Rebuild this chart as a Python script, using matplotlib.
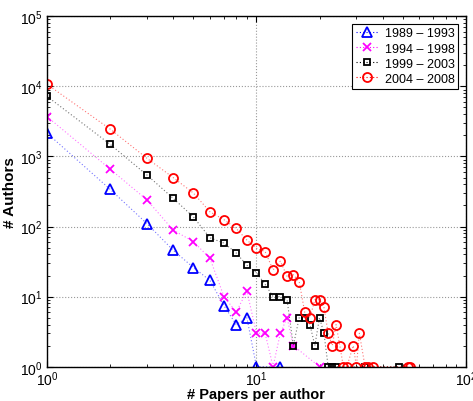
import numpy as np
import matplotlib
matplotlib.use("Agg")
import matplotlib.pyplot as plt

plt.rcParams['font.family'] = ['Liberation Sans', 'DejaVu Sans']
plt.rcParams['mathtext.fontset'] = 'custom'
plt.rcParams['mathtext.rm'] = 'Liberation Sans'

labels = ['1989 – 1993', '1994 – 1998', '1999 – 2003', '2004 – 2008']

x1 = [1, 2, 3, 4, 5, 6, 7, 8, 9, 10, 13]
y1 = [2150, 340, 110, 46, 26, 17, 7.4, 4, 5, 1, 1]

x2 = [1, 2, 3, 4, 5, 6, 7, 8, 9, 10, 11, 12, 13, 14, 15, 20]
y2 = [3700, 660, 240, 89, 61, 35, 10, 6, 12, 3, 3, 1, 3, 5, 2, 1]

x3 = [1, 2, 3, 4, 5, 6, 7, 8, 9, 10, 11, 12, 13, 14, 15, 16, 17, 18, 19, 20,
      21, 22, 23, 24, 33, 48]
y3 = [7200, 1490, 543, 253, 137, 69, 58, 42, 28, 22, 15, 10, 10, 9, 2, 5, 5, 4, 2, 5,
      3, 1, 1, 1, 1, 1]

x4 = [1, 2, 3, 4, 5, 6, 7, 8, 9, 10, 11, 12, 13, 14, 15, 16, 17, 18, 19, 20,
      21, 22, 23, 24, 25, 26, 27, 29, 30, 31, 33, 34, 36, 53, 54]
y4 = [10700, 2460, 940, 500, 300, 162, 125, 94, 64, 49, 44, 24, 32, 19.5, 20.5, 16.3, 6, 5, 9, 9,
      7, 3, 2, 4, 2, 1, 1, 2, 1, 3, 1, 1, 1, 1, 1]

fig = plt.figure(figsize=(4.73, 4.02), dpi=100)
ax = fig.add_axes([0.0994, 0.0853, 0.8856, 0.8718])

dots = (0, (1, 2))
series = [(x1, y1, '^', 'blue', 7), (x2, y2, 'x', 'magenta', 5.5),
          (x3, y3, 's', 'black', 5), (x4, y4, 'o', 'red', 6.5)]
for (xs, ys, m, c, size), lab in zip(series, labels):
    # faint dotted line first, then crisp markers on top
    ax.loglog(xs, ys, color=c, linestyle=dots, lw=0.8, alpha=0.55)
    ax.loglog(xs, ys, linestyle='none', marker=m, color=c,
              mfc='none', mew=1.3, ms=size)
    ax.plot([], [], linestyle=dots, lw=0.8, color=c, marker=m,
            mfc='none', mew=1.3, ms=size, label=lab)

ax.set_xlim(1, 100)
ax.set_ylim(1, 1e5)
ax.grid(True, which='major', linestyle=':', color='#999999', linewidth=0.8)
ax.tick_params(which='both', direction='in', top=True, right=True, labelsize=10)
ax.tick_params(which='major', length=4)
ax.tick_params(which='minor', length=2.5)
ax.tick_params(axis='x', pad=2)
for s in ax.spines.values():
    s.set_linewidth(1.0)

ax.set_xlabel('# Papers per author', fontsize=10.5, fontweight='bold', labelpad=-1)
ax.set_ylabel('# Authors', fontsize=11, fontweight='bold', labelpad=2)

leg = ax.legend(loc='upper right', fontsize=9, fancybox=False, framealpha=1,
                edgecolor='black', borderpad=0.3, handlelength=1.8, labelspacing=0.25,
                handletextpad=0.5, borderaxespad=0.6)
leg.get_frame().set_linewidth(0.8)

fig.savefig('out.png', dpi=100)
